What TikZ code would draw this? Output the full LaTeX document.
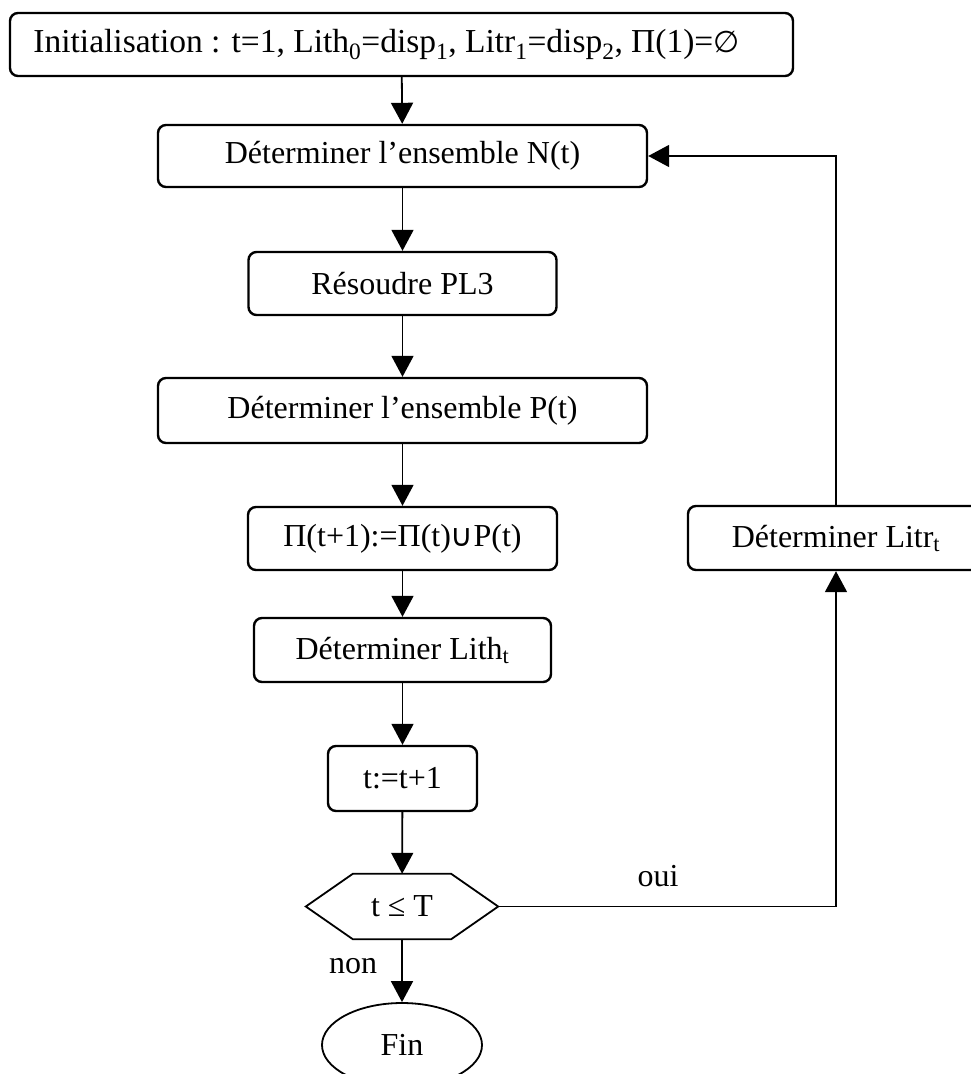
\documentclass[tikz,border=0pt]{standalone}
\usepackage{fontspec}
\setmainfont{Liberation Serif}
\newfontfamily\dvfont{DejaVu Sans}
\usetikzlibrary{arrows.meta,shapes.geometric,calc}
\tikzset{
  txt/.style={font=\fontsize{32pt}{38pt}\selectfont},
  box/.style={txt,draw,line width=2.4pt,rounded corners=8pt,inner sep=0pt,align=center},
  conn/.style={line width=1.8pt,-{Triangle[length=21pt,width=22pt]}},
  plain/.style={line width=1.8pt}
}
\begin{document}
\begin{tikzpicture}[x=1pt,y=-1pt]
\path[use as bounding box] (0,0) rectangle (971,1074);
\clip (0,0) rectangle (971,1074);
\node[box,minimum width=783pt,minimum height=63pt,font=\fontsize{33.5pt}{40pt}\selectfont] (init) at (401.5,44.5)
  {\hspace*{-30pt}Initialisation : t=1, Lith\textsubscript{0}=disp\textsubscript{1}, Litr\textsubscript{1}=disp\textsubscript{2}, Π(1)={\dvfont\fontsize{30pt}{36pt}\selectfont ∅}};
\node[box,minimum width=489pt,minimum height=62pt] (nt) at (402.5,156) {Déterminer l’ensemble N(t)};
\node[box,minimum width=308pt,minimum height=63pt] (pl3) at (402.5,283.5) {Résoudre PL3};
\node[box,minimum width=489pt,minimum height=65pt] (pt) at (402.5,410.5) {Déterminer l’ensemble P(t)};
\node[box,minimum width=309pt,minimum height=63pt] (pi) at (402.5,538.5) {Π(t+1):=Π(t){\dvfont\fontsize{31pt}{36pt}\selectfont ∪}P(t)};
\node[box,minimum width=297pt,minimum height=64pt] (lith) at (402.5,650) {Déterminer Lith\textsubscript{t}};
\node[box,minimum width=149pt,minimum height=65pt] (tt) at (402.5,778.5) {t:=t+1};
\node[txt,minimum width=192pt,minimum height=65pt,inner sep=0pt] (hex) at (402,906.5) {t ≤ T};
\draw[plain,line join=miter] (hex.west) -- ([xshift=47pt]hex.north west) -- ([xshift=-47pt]hex.north east)
  -- (hex.east) -- ([xshift=-47pt]hex.south east) -- ([xshift=47pt]hex.south west) -- cycle;
\node[txt,draw,ellipse,line width=1.8pt,minimum width=160pt,minimum height=84pt,inner sep=0pt] (fin) at (402,1045) {Fin};
\node[box,minimum width=296pt,minimum height=64pt] (litr) at (836,538) {Déterminer Litr\textsubscript{t}};
\draw[conn] (init) -- (nt);
\draw[conn] (nt) -- (pl3);
\draw[conn] (pl3) -- (pt);
\draw[conn] (pt) -- (pi);
\draw[conn] (pi) -- (lith);
\draw[conn] (lith) -- (tt);
\draw[conn] (tt) -- (hex);
\draw[conn] (hex) -- (fin);
\draw[conn] (hex.east) -| (litr.south);
\draw[conn] (litr.north) |- (nt.east);
\node[txt] (oui) at (658,876) {oui};
\node[txt] (non) at (353,966) {non};
\end{tikzpicture}
\end{document}
